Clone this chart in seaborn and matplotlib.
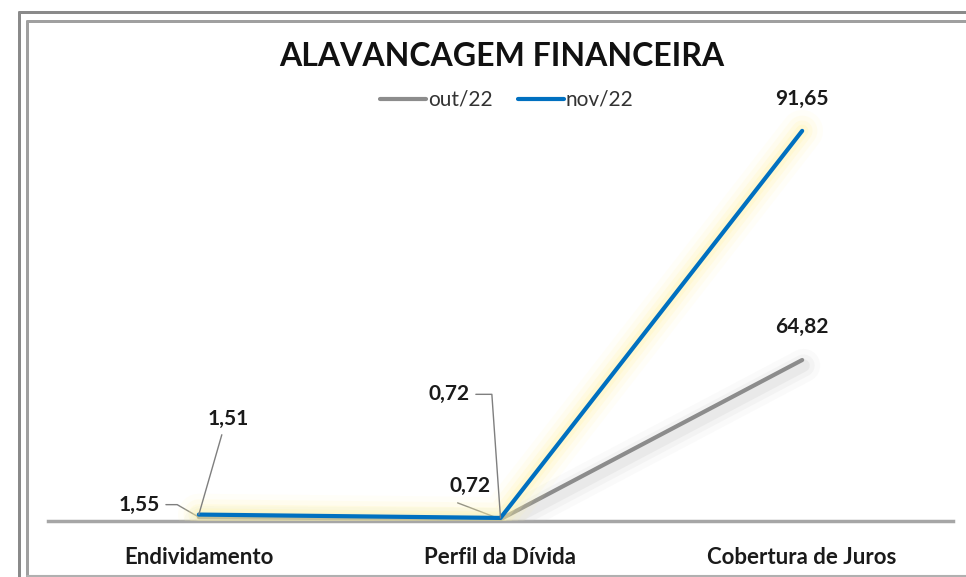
import seaborn as sns
import pandas as pd
import matplotlib.pyplot as plt
import matplotlib.patheffects as pe
from matplotlib.lines import Line2D

# ------------ Data ------------
categories = ["Endividamento", "Perfil da Dívida", "Cobertura de Juros"]
out22 = [1.55, 0.72, 64.82]
nov22 = [1.51, 0.72, 91.65]
labels_out = ["1,55", "0,72", "64,82"]
labels_nov = ["1,51", "0,72", "91,65"]
series_names = ["out/22", "nov/22"]

GRAY = "#8c8c8c"
BLUE = "#0070c0"

sns.set_theme(style="white")
plt.rcParams["font.family"] = ["Lato", "DejaVu Sans"]

df = pd.DataFrame({"categoria": categories, "out": out22, "nov": nov22})

fig = plt.figure(figsize=(9.66, 5.77), dpi=100)
W, H = 966, 577

def fx(px):
    return px / W

def fy(py):
    return 1 - py / H

# ------------ Frame ------------
for x0, y0, lw, col in [(18.5, 12, 3, "#8a8a8a"), (27, 21, 3, "#a0a0a0")]:
    fig.add_artist(Line2D([fx(x0), fx(x0)], [fy(y0), fy(H + 5)], lw=lw * 0.72, color=col))
    fig.add_artist(Line2D([fx(x0), fx(W + 5)], [fy(y0), fy(y0)], lw=lw * 0.72, color=col))
fig.add_artist(Line2D([fx(27), fx(W + 5)], [fy(575.5), fy(575.5)], lw=1.5, color="#b0b0b0"))

# ------------ Axes ------------
ax = fig.add_axes([fx(48), fy(521), fx(953) - fx(48), fy(60) - fy(521)])
ax2 = ax.twinx()

glow_blue = [pe.Stroke(linewidth=w, foreground="#fff5a8", alpha=a)
             for w, a in [(30, 0.08), (22, 0.12), (15, 0.18), (9, 0.25)]] + [pe.Normal()]
shadow_gray = [pe.SimpleLineShadow(offset=(1, -4), shadow_color="#c4c4c4", alpha=a, linewidth=w)
               for w, a in [(24, 0.08), (16, 0.12), (9, 0.2)]] + [pe.Normal()]

sns.lineplot(data=df, x="categoria", y="out", ax=ax, color=GRAY, linewidth=3,
             sort=False, path_effects=shadow_gray, solid_capstyle="round")
sns.lineplot(data=df, x="categoria", y="nov", ax=ax2, color=BLUE, linewidth=3,
             sort=False, path_effects=glow_blue, solid_capstyle="round")

ax.set_xlim(-0.5, 2.5)
ax.set_ylim(0, 185.6)
ax2.set_ylim(0, 108.3)

for a in (ax, ax2):
    a.set_xlabel("")
    a.set_ylabel("")
    a.set_yticks([])
    for s in a.spines.values():
        s.set_visible(False)
ax.spines["bottom"].set_visible(True)
ax.spines["bottom"].set_color("#a6a6a6")
ax.spines["bottom"].set_linewidth(2.5)
ax.spines["bottom"].set_zorder(0)
ax.tick_params(axis="x", length=0, pad=19, labelsize=16)
for t in ax.get_xticklabels():
    t.set_fontweight("bold")
    t.set_color("#1a1a1a")

# ------------ Data labels ------------
lab_kw = dict(fontsize=15, fontweight="bold", color="#1a1a1a", ha="center", va="center",
              textcoords="offset points", annotation_clip=False)
leader = dict(arrowstyle="-", color="#7f7f7f", lw=1.0, shrinkA=0, shrinkB=0)

# out/22
ax.annotate(labels_out[0], xy=(0, out22[0]), xytext=(-43, 9),
            arrowprops=dict(leader, connectionstyle="angle,angleA=0,angleB=150,rad=0",
                            relpos=(1.15, 0.5)), **lab_kw)
ax.annotate(labels_out[1], xy=(1, out22[1]), xytext=(-22, 24),
            arrowprops=dict(leader, relpos=(0.2, -0.35)), **lab_kw)
ax.annotate(labels_out[2], xy=(2, out22[2]), xytext=(0, 24), **lab_kw)

# nov/22
ax2.annotate(labels_nov[0], xy=(0, nov22[0]), xytext=(21, 69),
             arrowprops=dict(leader, relpos=(0.35, -0.3)), **lab_kw)
ax2.annotate(labels_nov[1], xy=(1, nov22[1]), xytext=(-37, 89),
             arrowprops=dict(leader, connectionstyle="angle,angleA=0,angleB=94,rad=0",
                             relpos=(1.15, 0.5)), **lab_kw)
ax2.annotate(labels_nov[2], xy=(2, nov22[2]), xytext=(0, 23), **lab_kw)

# ------------ Title & legend ------------
fig.text(fx(502), fy(56), "ALAVANCAGEM FINANCEIRA", ha="center", va="center",
         fontsize=23, fontweight="bold", color="#111111")

handles = [Line2D([], [], color=GRAY, lw=3), Line2D([], [], color=BLUE, lw=3)]
fig.legend(handles, series_names, loc="center", bbox_to_anchor=(fx(507), fy(100)),
           ncol=2, frameon=False, fontsize=15, handlelength=2.2, handletextpad=0.1,
           columnspacing=1.2, labelcolor="#333333")

fig.savefig("out.png", dpi=100, facecolor="white")
